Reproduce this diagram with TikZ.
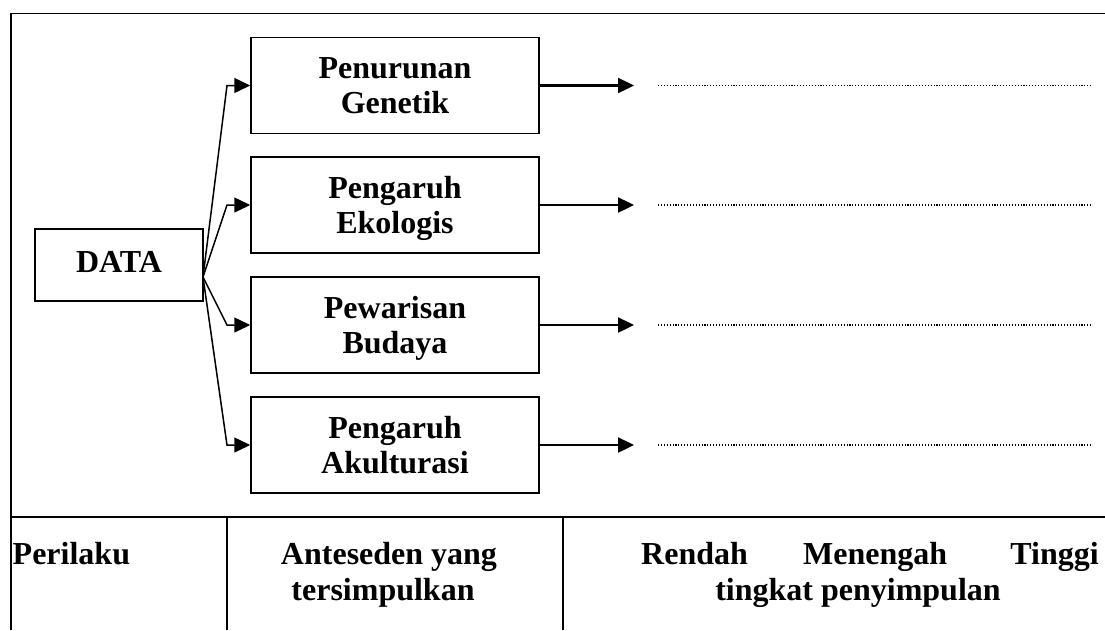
\documentclass[tikz,border=0pt]{standalone}
\usepackage{fontspec}
\setmainfont{Liberation Serif}
\usetikzlibrary{arrows.meta}
\newcommand\boxline[1]{\vphantom{A}\smash{#1}}
\begin{document}
\begin{tikzpicture}[x=1pt,y=-1pt,
  txt/.style={font=\fontsize{32}{35}\selectfont\bfseries, inner sep=0pt},
  bx/.style={txt, draw, line width=1.5pt, minimum width=288pt, minimum height=96pt, align=center},
  frame/.style={line width=1.5pt},
  fan/.style={line width=1.5pt, -{Triangle[length=16pt,width=15pt]}},
  rarr/.style={line width=2.4pt, -{Triangle[length=16pt,width=15pt]}},
  dotline/.style={line width=1.2pt, dash pattern=on 1.1pt off 1.8pt}]
\useasboundingbox (0,0) rectangle (1105,630);

% frame
\draw[frame] (11,630) -- (11,13.5) -- (1105,13.5);
\draw[frame] (11,517) -- (1105,517);
\draw[frame] (227,517) -- (227,630);
\draw[frame] (563,517) -- (563,630);

% DATA box
\node[txt, draw, line width=1.5pt, minimum width=168pt, minimum height=72pt,
      text height=21.2pt, text depth=7.2pt] (data) at (119,265) {DATA};

% category boxes
\node[bx] (b1) at (395,85.5) {\boxline{Penurunan}\\\boxline{Genetik}};
\node[bx] (b2) at (395,205) {\boxline{Pengaruh}\\\boxline{Ekologis}};
\node[bx] (b3) at (395,325) {\boxline{Pewarisan}\\\boxline{Budaya}};
\node[bx] (b4) at (395,445) {\boxline{Pengaruh}\\\boxline{Akulturasi}};

% helper coordinates
\coordinate (fp) at (203,277);
\coordinate (bendx) at (227,0);
\coordinate (tipx) at (634,0);
\coordinate (dotA) at (658,0);
\coordinate (dotB) at (1092,0);

% connectors
\foreach \b in {b1,b2,b3,b4}{
  \draw[fan] (fp) -- (\b.west -| bendx) -- (\b.west);
  \draw[rarr] (\b.east) -- (\b.east -| tipx);
  \draw[dotline] (\b.east -| dotA) -- (\b.east -| dotB);
}

% bottom row texts
\node[txt, anchor=base west] (perilaku) at (12.5,564) {Perilaku};
\node[txt, anchor=base] (ant1) at (389,564) {Anteseden yang};
\node[txt, anchor=base] (ant2) at (383,600) {tersimpulkan};
\node[txt, anchor=base west] (rendah) at (641,564) {Rendah};
\node[txt, anchor=base west] (menengah) at (803,564) {Menengah};
\node[txt, anchor=base east] (tinggi) at (1099,564) {Tinggi};
\node[txt, anchor=base] (tingkat) at (858,600) {tingkat penyimpulan};
\end{tikzpicture}
\end{document}
